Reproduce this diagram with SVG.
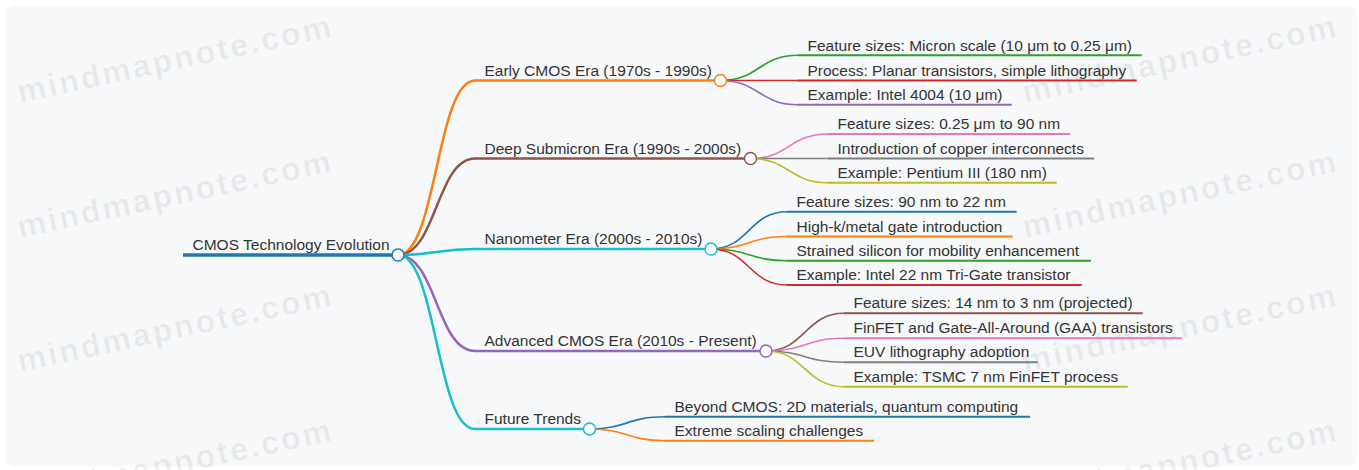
<svg xmlns="http://www.w3.org/2000/svg" width="1359" height="470" viewBox="0 0 1359 470">
<style>
.t{font-family:"Liberation Sans",Arial,sans-serif;font-size:15.5px;fill:#333}
.wm{font-family:"Liberation Sans",Arial,sans-serif;font-size:32px;font-weight:bold;letter-spacing:2.5px;fill:#000;fill-opacity:0.06}
.c{fill:none;stroke-linecap:round}
.ln{fill:none}
.dot{fill:#fff;stroke-width:1.5}
</style>
<rect x="0" y="0" width="1359" height="470" fill="#fff"/>
<rect x="5" y="5" width="1352" height="462" rx="10" fill="#f7f8fa"/>
<g id="watermark">
<text class="wm" x="20" y="103" transform="rotate(-12 20 103)">mindmapnote.com</text>
<text class="wm" x="20" y="238" transform="rotate(-12 20 238)">mindmapnote.com</text>
<text class="wm" x="20" y="372" transform="rotate(-12 20 372)">mindmapnote.com</text>
<text class="wm" x="20" y="507" transform="rotate(-12 20 507)">mindmapnote.com</text>
<text class="wm" x="1025" y="103" transform="rotate(-12 1025 103)">mindmapnote.com</text>
<text class="wm" x="1025" y="238" transform="rotate(-12 1025 238)">mindmapnote.com</text>
<text class="wm" x="1025" y="372" transform="rotate(-12 1025 372)">mindmapnote.com</text>
<text class="wm" x="1025" y="507" transform="rotate(-12 1025 507)">mindmapnote.com</text>
</g>
<g id="connectors">
<path class="c" stroke="#ff7f0e" stroke-width="2.5" d="M398,255 C436.5,255 436.5,80.5 475,80.5"/>
<path class="c" stroke="#8c564b" stroke-width="2.5" d="M398,255 C436.5,255 436.5,158.5 475,158.5"/>
<path class="c" stroke="#17becf" stroke-width="2.5" d="M398,255 C436.5,255 436.5,249 475,249"/>
<path class="c" stroke="#9467bd" stroke-width="2.5" d="M398,255 C436.5,255 436.5,351 475,351"/>
<path class="c" stroke="#17becf" stroke-width="2.5" d="M398,255 C436.5,255 436.5,429 475,429"/>
<path class="c" stroke="#2ca02c" stroke-width="1.6" d="M720.5,80.5 C759,80.5 759,55.3 798,55.3"/>
<path class="c" stroke="#d62728" stroke-width="1.6" d="M720.5,80.5 L798,80.5"/>
<path class="c" stroke="#9467bd" stroke-width="1.6" d="M720.5,80.5 C759,80.5 759,104.7 798,104.7"/>
<path class="c" stroke="#e377c2" stroke-width="1.6" d="M750.5,158.5 C789,158.5 789,134 828,134"/>
<path class="c" stroke="#7f7f7f" stroke-width="1.6" d="M750.5,158.5 L828,158.5"/>
<path class="c" stroke="#bcbd22" stroke-width="1.6" d="M750.5,158.5 C789,158.5 789,182.7 828,182.7"/>
<path class="c" stroke="#1f77b4" stroke-width="1.6" d="M711,249 C749,249 749,211.7 787,211.7"/>
<path class="c" stroke="#ff7f0e" stroke-width="1.6" d="M711,249 C749,249 749,236.5 787,236.5"/>
<path class="c" stroke="#2ca02c" stroke-width="1.6" d="M711,249 C749,249 749,260.7 787,260.7"/>
<path class="c" stroke="#d62728" stroke-width="1.6" d="M711,249 C749,249 749,285 787,285"/>
<path class="c" stroke="#8c564b" stroke-width="1.6" d="M766,351 C805,351 805,313.3 844,313.3"/>
<path class="c" stroke="#e377c2" stroke-width="1.6" d="M766,351 C805,351 805,338.3 844,338.3"/>
<path class="c" stroke="#7f7f7f" stroke-width="1.6" d="M766,351 C805,351 805,362.3 844,362.3"/>
<path class="c" stroke="#bcbd22" stroke-width="1.6" d="M766,351 C805,351 805,386.7 844,386.7"/>
<path class="c" stroke="#1f77b4" stroke-width="1.6" d="M589.5,429 C627,429 627,416.7 665,416.7"/>
<path class="c" stroke="#ff7f0e" stroke-width="1.6" d="M589.5,429 C627,429 627,440.7 665,440.7"/>
</g>
<g id="root">
<line class="ln" x1="183" y1="255" x2="398" y2="255" stroke="#1f77b4" stroke-width="3.5"/>
<circle class="dot" cx="398" cy="255" r="6" stroke="#1f77b4"/>
<text class="t" x="192.5" y="250">CMOS Technology Evolution</text>
</g>
<g id="early">
<line class="ln" x1="475" y1="80.5" x2="720.5" y2="80.5" stroke="#ff7f0e" stroke-width="2.5"/>
<circle class="dot" cx="720.5" cy="80.5" r="6" stroke="#ff7f0e"/>
<text class="t" x="484.5" y="75.5">Early CMOS Era (1970s - 1990s)</text>
</g>
<g id="early-1">
<line class="ln" x1="798" y1="55.3" x2="1141.7" y2="55.3" stroke="#2ca02c" stroke-width="2"/>
<text class="t" x="807.5" y="50.5">Feature sizes: Micron scale (10 μm to 0.25 μm)</text>
</g>
<g id="early-2">
<line class="ln" x1="798" y1="80.5" x2="1136.7" y2="80.5" stroke="#d62728" stroke-width="2"/>
<text class="t" x="807.5" y="75.5">Process: Planar transistors, simple lithography</text>
</g>
<g id="early-3">
<line class="ln" x1="798" y1="104.7" x2="1011.7" y2="104.7" stroke="#9467bd" stroke-width="2"/>
<text class="t" x="807.5" y="99.7">Example: Intel 4004 (10 μm)</text>
</g>
<g id="deep">
<line class="ln" x1="475" y1="158.5" x2="750.5" y2="158.5" stroke="#8c564b" stroke-width="2.5"/>
<circle class="dot" cx="750.5" cy="158.5" r="6" stroke="#8c564b"/>
<text class="t" x="484.5" y="153.5">Deep Submicron Era (1990s - 2000s)</text>
</g>
<g id="deep-1">
<line class="ln" x1="828" y1="134" x2="1070" y2="134" stroke="#e377c2" stroke-width="2"/>
<text class="t" x="837.5" y="129">Feature sizes: 0.25 μm to 90 nm</text>
</g>
<g id="deep-2">
<line class="ln" x1="828" y1="158.5" x2="1094" y2="158.5" stroke="#7f7f7f" stroke-width="2"/>
<text class="t" x="837.5" y="153.5">Introduction of copper interconnects</text>
</g>
<g id="deep-3">
<line class="ln" x1="828" y1="182.7" x2="1056.7" y2="182.7" stroke="#bcbd22" stroke-width="2"/>
<text class="t" x="837.5" y="177.7">Example: Pentium III (180 nm)</text>
</g>
<g id="nano">
<line class="ln" x1="475" y1="249" x2="711" y2="249" stroke="#17becf" stroke-width="2.5"/>
<circle class="dot" cx="711" cy="249" r="6" stroke="#17becf"/>
<text class="t" x="484.5" y="244">Nanometer Era (2000s - 2010s)</text>
</g>
<g id="nano-1">
<line class="ln" x1="787" y1="211.7" x2="1016.7" y2="211.7" stroke="#1f77b4" stroke-width="2"/>
<text class="t" x="796.5" y="206.7">Feature sizes: 90 nm to 22 nm</text>
</g>
<g id="nano-2">
<line class="ln" x1="787" y1="236.5" x2="1012.7" y2="236.5" stroke="#ff7f0e" stroke-width="2"/>
<text class="t" x="796.5" y="231.5">High-k/metal gate introduction</text>
</g>
<g id="nano-3">
<line class="ln" x1="787" y1="260.7" x2="1091" y2="260.7" stroke="#2ca02c" stroke-width="2"/>
<text class="t" x="796.5" y="255.7">Strained silicon for mobility enhancement</text>
</g>
<g id="nano-4">
<line class="ln" x1="787" y1="285" x2="1081.7" y2="285" stroke="#d62728" stroke-width="2"/>
<text class="t" x="796.5" y="280">Example: Intel 22 nm Tri-Gate transistor</text>
</g>
<g id="adv">
<line class="ln" x1="475" y1="351" x2="766" y2="351" stroke="#9467bd" stroke-width="2.5"/>
<circle class="dot" cx="766" cy="351" r="6" stroke="#9467bd"/>
<text class="t" x="484.5" y="346">Advanced CMOS Era (2010s - Present)</text>
</g>
<g id="adv-1">
<line class="ln" x1="844" y1="313.3" x2="1142.7" y2="313.3" stroke="#8c564b" stroke-width="2"/>
<text class="t" x="853.5" y="308.3">Feature sizes: 14 nm to 3 nm (projected)</text>
</g>
<g id="adv-2">
<line class="ln" x1="844" y1="338.3" x2="1181.7" y2="338.3" stroke="#e377c2" stroke-width="2"/>
<text class="t" x="853.5" y="333.3">FinFET and Gate-All-Around (GAA) transistors</text>
</g>
<g id="adv-3">
<line class="ln" x1="844" y1="362.3" x2="1037.7" y2="362.3" stroke="#7f7f7f" stroke-width="2"/>
<text class="t" x="853.5" y="357.3">EUV lithography adoption</text>
</g>
<g id="adv-4">
<line class="ln" x1="844" y1="386.7" x2="1127.7" y2="386.7" stroke="#bcbd22" stroke-width="2"/>
<text class="t" x="853.5" y="381.7">Example: TSMC 7 nm FinFET process</text>
</g>
<g id="future">
<line class="ln" x1="475" y1="429" x2="589.5" y2="429" stroke="#17becf" stroke-width="2.5"/>
<circle class="dot" cx="589.5" cy="429" r="6" stroke="#17becf"/>
<text class="t" x="484.5" y="424">Future Trends</text>
</g>
<g id="future-1">
<line class="ln" x1="665" y1="416.7" x2="1030" y2="416.7" stroke="#1f77b4" stroke-width="2"/>
<text class="t" x="674.5" y="411.7">Beyond CMOS: 2D materials, quantum computing</text>
</g>
<g id="future-2">
<line class="ln" x1="665" y1="440.7" x2="874" y2="440.7" stroke="#ff7f0e" stroke-width="2"/>
<text class="t" x="674.5" y="435.7">Extreme scaling challenges</text>
</g>
</svg>
